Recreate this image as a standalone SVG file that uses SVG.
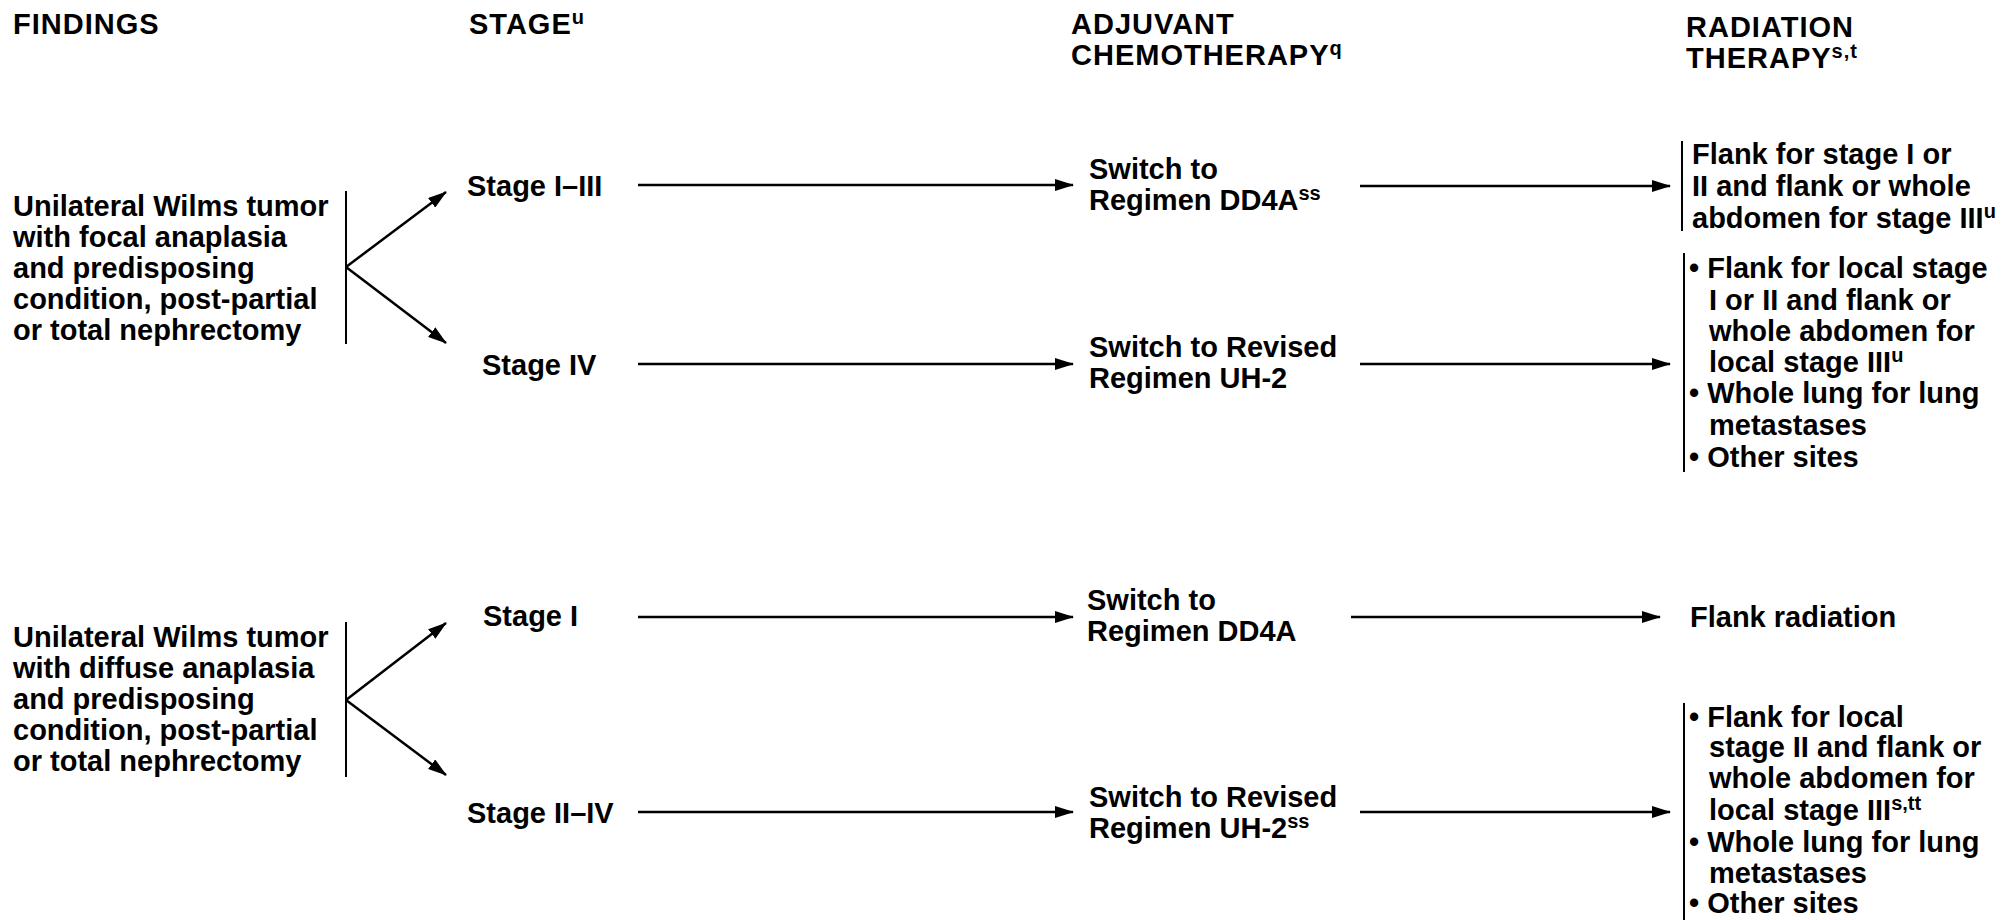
<svg xmlns="http://www.w3.org/2000/svg" width="2001" height="920" viewBox="0 0 2001 920">
<style>
text{font-family:"Liberation Sans",Arial,sans-serif;font-weight:bold;fill:#000;font-size:29px}
.h{letter-spacing:1px}
.sup{font-size:20px}
.ln{stroke:#000;stroke-width:2.5;fill:none}
.bar{stroke:#000;stroke-width:2;fill:none}
</style>
<defs>
<marker id="ah" markerUnits="userSpaceOnUse" markerWidth="19" markerHeight="12" refX="18" refY="6" orient="auto">
<path d="M0,0 L19,6 L0,12 z" fill="#000"/>
</marker>
</defs>
<g id="headers">
<text class="h" x="13" y="34">FINDINGS</text>
<text class="h" x="469" y="34">STAGE<tspan class="sup" dy="-10">u</tspan></text>
<text class="h" x="1071" y="34">ADJUVANT</text>
<text class="h" x="1071" y="65">CHEMOTHERAPY<tspan class="sup" dy="-10">q</tspan></text>
<text class="h" x="1686" y="37">RADIATION</text>
<text class="h" x="1686" y="68">THERAPY<tspan class="sup" dy="-10">s,t</tspan></text>
</g>
<g id="finding1">
<text x="13" y="216">Unilateral Wilms tumor</text>
<text x="13" y="247">with focal anaplasia</text>
<text x="13" y="278">and predisposing</text>
<text x="13" y="309">condition, post-partial</text>
<text x="13" y="340">or total nephrectomy</text>
<line class="bar" x1="346" y1="191" x2="346" y2="344"/>
</g>
<g id="finding2">
<text x="13" y="647">Unilateral Wilms tumor</text>
<text x="13" y="678">with diffuse anaplasia</text>
<text x="13" y="709">and predisposing</text>
<text x="13" y="740">condition, post-partial</text>
<text x="13" y="771">or total nephrectomy</text>
<line class="bar" x1="346" y1="622" x2="346" y2="777"/>
</g>
<g id="stage1"><text x="467" y="196">Stage I–III</text></g>
<g id="stage2"><text x="482" y="375">Stage IV</text></g>
<g id="stage3"><text x="483" y="626">Stage I</text></g>
<g id="stage4"><text x="467" y="823">Stage II–IV</text></g>
<g id="chemo1">
<text x="1089" y="179">Switch to</text>
<text x="1089" y="210">Regimen DD4A<tspan class="sup" dy="-10">ss</tspan></text>
</g>
<g id="chemo2">
<text x="1089" y="357">Switch to Revised</text>
<text x="1089" y="388">Regimen UH-2</text>
</g>
<g id="chemo3">
<text x="1087" y="610">Switch to</text>
<text x="1087" y="641">Regimen DD4A</text>
</g>
<g id="chemo4">
<text x="1089" y="807">Switch to Revised</text>
<text x="1089" y="838">Regimen UH-2<tspan class="sup" dy="-10">ss</tspan></text>
</g>
<g id="rt1">
<line class="bar" x1="1682" y1="141" x2="1682" y2="231"/>
<text x="1692" y="164">Flank for stage I or</text>
<text x="1692" y="196">II and flank or whole</text>
<text x="1692" y="228">abdomen for stage III<tspan class="sup" dy="-10">u</tspan></text>
</g>
<g id="rt2">
<line class="bar" x1="1684" y1="253" x2="1684" y2="472"/>
<text x="1689" y="278">• Flank for local stage</text>
<text x="1709" y="310">I or II and flank or</text>
<text x="1709" y="341">whole abdomen for</text>
<text x="1709" y="372">local stage III<tspan class="sup" dy="-10">u</tspan></text>
<text x="1689" y="403">• Whole lung for lung</text>
<text x="1709" y="435">metastases</text>
<text x="1689" y="467">• Other sites</text>
</g>
<g id="rt3">
<text x="1690" y="627">Flank radiation</text>
</g>
<g id="rt4">
<line class="bar" x1="1684" y1="703" x2="1684" y2="920"/>
<text x="1689" y="727">• Flank for local</text>
<text x="1709" y="757">stage II and flank or</text>
<text x="1709" y="788">whole abdomen for</text>
<text x="1709" y="820">local stage III<tspan class="sup" dy="-10">s,tt</tspan></text>
<text x="1689" y="852">• Whole lung for lung</text>
<text x="1709" y="883">metastases</text>
<text x="1689" y="913">• Other sites</text>
</g>
<g id="connectors">
<line class="ln" x1="346" y1="267" x2="446" y2="192" marker-end="url(#ah)"/>
<line class="ln" x1="346" y1="267" x2="446" y2="343" marker-end="url(#ah)"/>
<line class="ln" x1="346" y1="700" x2="446" y2="623" marker-end="url(#ah)"/>
<line class="ln" x1="346" y1="700" x2="446" y2="775" marker-end="url(#ah)"/>
<line class="ln" x1="638" y1="185" x2="1073" y2="185" marker-end="url(#ah)"/>
<line class="ln" x1="638" y1="364" x2="1073" y2="364" marker-end="url(#ah)"/>
<line class="ln" x1="638" y1="617" x2="1073" y2="617" marker-end="url(#ah)"/>
<line class="ln" x1="638" y1="812" x2="1073" y2="812" marker-end="url(#ah)"/>
<line class="ln" x1="1360" y1="186" x2="1670" y2="186" marker-end="url(#ah)"/>
<line class="ln" x1="1360" y1="364" x2="1670" y2="364" marker-end="url(#ah)"/>
<line class="ln" x1="1351" y1="617" x2="1660" y2="617" marker-end="url(#ah)"/>
<line class="ln" x1="1360" y1="812" x2="1670" y2="812" marker-end="url(#ah)"/>
</g>
</svg>
